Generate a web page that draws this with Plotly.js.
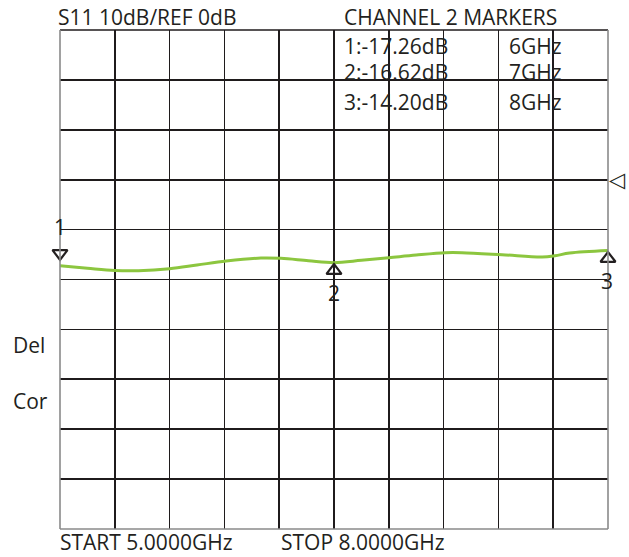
<!DOCTYPE html>
<html>
<head>
<meta charset="utf-8">
<script src="https://cdn.plot.ly/plotly-3.0.1.min.js"></script>
<style>
html,body{margin:0;padding:0;background:#fff;}
#chart{width:629px;height:557px;}
</style>
</head>
<body>
<div id="chart"></div>
<script>
// ---- data ----
const freqGHz = [5.00, 5.15, 5.30, 5.43, 5.60, 5.75, 5.91, 6.10, 6.21, 6.36, 6.50, 6.65, 6.80, 6.95, 7.11, 7.20, 7.42, 7.64, 7.71, 7.79, 8.00];
const s11dB   = [-17.26, -17.76, -18.20, -18.24, -17.84, -17.10, -16.30, -15.70, -15.76, -16.24, -16.62, -16.16, -15.64, -15.10, -14.64, -14.64, -15.04, -15.50, -15.24, -14.70, -14.20];

const markerNum = ['1', '2', '3'];
const markerPlotFreq = [5.0, 6.5, 8.0];
const markerDB = [-17.26, -16.62, -14.20];
const markerFreqLabel = ['6GHz', '7GHz', '8GHz'];

const startGHz = 5.0, stopGHz = 8.0;
const scaleDB = 10, refDB = 0;
const divisions = 10;
const topDB = refDB + 3 * scaleDB;
const bottomDB = topDB - divisions * scaleDB;

const titleLeft = 'S11 ' + scaleDB + 'dB/REF ' + refDB + 'dB';
const titleRight = 'CHANNEL 2 MARKERS';
const sideLabels = ['Del', 'Cor'];
const startLabel = 'START ' + startGHz.toFixed(4) + 'GHz';
const stopLabel = 'STOP ' + stopGHz.toFixed(4) + 'GHz';

// ---- layout helpers (pixel -> paper) ----
const L = 60, R = 21, T = 30, B = 28, W = 629, H = 557;
const PW = W - L - R, PH = H - T - B;
const px = x => (x - L) / PW;
const py = y => (H - B - y) / PH;

const FONT = 'Open Sans, Noto Sans, sans-serif';
const TXT = '#231f20';
const FS = 21;

const ann = [];
function addText(text, x, y, size, pad) {
  ann.push({text: text, xref: 'paper', yref: 'paper', x: px(x), y: py(y),
    xanchor: 'left', yanchor: 'middle', showarrow: false, borderpad: pad === undefined ? 1 : pad,
    font: {family: FONT, size: size || FS, color: TXT}});
}
addText(titleLeft, 56, 17);
addText(titleRight, 342, 17);
const rowY = [46, 72, 102];
markerNum.forEach((n, i) => {
  const v = markerDB[i].toFixed(2);
  addText(n + ':' + v + 'dB', 342, rowY[i]);
  addText(markerFreqLabel[i], 507, rowY[i]);
});
addText(sideLabels[0], 11, 345);
addText(sideLabels[1], 11, 401);
addText(startLabel, 59, 542, FS, 0);
addText(stopLabel, 280, 542, FS, 0);

// marker number labels attached to data points
markerNum.forEach((n, i) => {
  ann.push({text: n, x: markerPlotFreq[i], y: markerDB[i], xref: 'x', yref: 'y',
    showarrow: false, xanchor: 'center', yanchor: 'middle',
    yshift: i === 0 ? 39 : -30, xshift: i === 2 ? -1 : 0,
    font: {family: FONT, size: FS, color: TXT}});
});
// reference level marker
ann.push({text: '◁', xref: 'paper', yref: 'y', x: 1, y: refDB, xanchor: 'left', yanchor: 'middle',
  xshift: -1, showarrow: false, font: {family: 'DejaVu Sans', size: 21, color: TXT}});

const traces = [
  {x: freqGHz, y: s11dB, type: 'scatter', mode: 'lines',
   line: {color: '#8cc63f', width: 3, shape: 'spline', smoothing: 1},
   hoverinfo: 'skip', cliponaxis: false},
  {x: markerPlotFreq, y: markerDB.map((v, i) => v + (i === 0 ? 2.5 : -1.6)), type: 'scatter', mode: 'markers',
   marker: {symbol: markerNum.map((n, i) => i === 0 ? 'triangle-down-open' : 'triangle-up-open'),
            size: 13, color: TXT, line: {color: TXT, width: 2.2}},
   hoverinfo: 'skip', cliponaxis: false}
];

const gridColor = '#1f1b1c';
const edgeGray = '#8a8a8a';
const layout = {
  width: W, height: H,
  margin: {l: L, r: R, t: T, b: B, pad: 0},
  paper_bgcolor: '#fff', plot_bgcolor: '#fff',
  showlegend: false,
  xaxis: {range: [startGHz, stopGHz], tick0: startGHz, dtick: (stopGHz - startGHz) / divisions,
          showgrid: true, gridcolor: gridColor, gridwidth: 1.6, zeroline: false,
          showticklabels: false, ticks: '', showline: false, fixedrange: true},
  yaxis: {range: [bottomDB, topDB], tick0: bottomDB, dtick: scaleDB,
          showgrid: true, gridcolor: gridColor, gridwidth: 1.6, zeroline: false,
          showticklabels: false, ticks: '', showline: false, fixedrange: true},
  annotations: ann,
  shapes: [
    {type: 'line', xref: 'paper', yref: 'paper', x0: 0, x1: 1, y0: 1, y1: 1, line: {color: gridColor, width: 1.6}, layer: 'above'},
    {type: 'line', xref: 'paper', yref: 'paper', x0: 0, x1: 0, y0: 0, y1: 1, line: {color: edgeGray, width: 1.6}, layer: 'above'},
    {type: 'line', xref: 'paper', yref: 'paper', x0: 1, x1: 1, y0: 0, y1: 1, line: {color: edgeGray, width: 1.6}, layer: 'above'},
    {type: 'line', xref: 'paper', yref: 'paper', x0: 0, x1: 1, y0: 0, y1: 0, line: {color: edgeGray, width: 1.6}, layer: 'above'}
  ]
};

Plotly.newPlot('chart', traces, layout, {displayModeBar: false, staticPlot: true});
</script>
</body>
</html>
